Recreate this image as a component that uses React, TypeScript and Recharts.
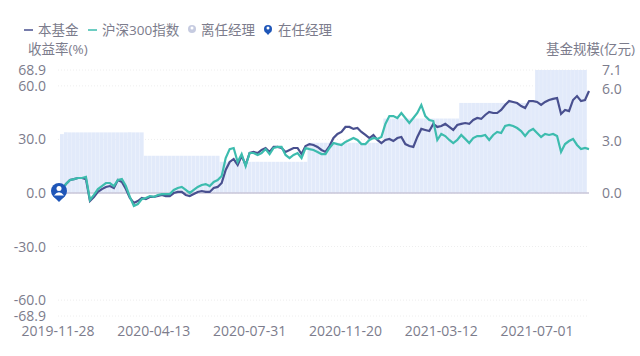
import { ComposedChart, Bar, Line, XAxis, YAxis, CartesianGrid, ReferenceLine, ReferenceDot } from 'recharts'

const tickIndexes = [0, 24, 48, 72, 96, 120]
const tickLabels = ['2019-11-28', '2020-04-13', '2020-07-31', '2020-11-20', '2021-03-12', '2021-07-01']
const leftTicks = [-68.9, -60, -30, 0, 30, 60, 68.9]
const rightTicks = [0, 3, 6, 7.1]

const fundReturn = [
  0, 2.2, 5.0, 7.3, 7.8, 8.4, 8.4, 7.8, -4.5, -2.2, 0.6, 2.2, 3.4, 3.9, 2.8, 7.3, 6.2, 2.2, -2.8, -5.6,
  -4.5, -2.8, -3.4, -2.2, -2.2, -1.7, -1.1, -1.7, -1.7, 0, 0.6, 0.6, -1.1, -1.7, -0.6, 0.6, 1.1, 0.6, 0.6, 2.8,
  3.4, 5.6, 12.9, 17.4, 19.0, 15.7, 20.7, 15.7, 22.4, 23.0, 22.4, 24.1, 25.2, 23.0, 25.8, 25.8, 25.2, 23.0, 24.1, 25.2,
  25.2, 21.8, 26.3, 27.4, 26.9, 25.8, 24.1, 23.0, 26.3, 30.8, 33.1, 34.2, 37.0, 37.0, 35.9, 36.4, 34.2, 32.5, 30.8, 32.5,
  29.7, 28.0, 29.7, 30.3, 29.1, 30.8, 31.4, 27.4, 26.3, 25.8, 31.4, 35.9, 35.3, 34.7, 38.7, 37.0, 37.5, 38.7, 37.0, 35.3,
  38.1, 38.7, 39.2, 38.7, 40.9, 42.0, 41.5, 43.7, 45.4, 44.8, 44.8, 46.5, 49.3, 51.5, 51.0, 50.4, 48.7, 47.6, 51.5, 51.5,
  51.0, 49.3, 51.0, 52.1, 52.7, 53.2, 44.3, 46.5, 45.9, 52.1, 54.3, 51.5, 52.1, 57.1,
]

const indexReturn = [
  0, 2.2, 5.0, 7.3, 7.8, 8.4, 8.4, 9.0, -3.9, -1.1, 2.2, 3.9, 5.6, 5.6, 3.9, 7.3, 7.8, 3.9, -2.2, -7.3,
  -6.2, -3.4, -2.8, -1.7, -2.2, -1.1, -0.6, -0.6, -0.6, 1.7, 2.8, 3.4, 1.7, 0, 1.7, 3.4, 4.5, 5.0, 3.9, 6.2,
  7.3, 9.5, 19.6, 24.6, 25.2, 17.4, 21.8, 15.1, 22.4, 22.4, 21.3, 22.4, 24.6, 21.8, 25.2, 25.8, 25.8, 21.3, 19.6, 21.3,
  22.4, 19.6, 25.2, 24.6, 24.1, 23.0, 21.8, 21.8, 25.2, 28.0, 27.4, 26.9, 28.6, 29.7, 30.8, 29.7, 27.4, 27.4, 29.7, 30.8,
  30.3, 31.4, 38.7, 43.1, 43.1, 42.0, 44.8, 42.0, 39.2, 42.0, 44.8, 49.3, 43.1, 40.9, 40.3, 29.7, 33.1, 31.9, 29.7, 28.0,
  29.7, 32.5, 30.3, 28.0, 30.8, 31.9, 31.9, 32.5, 29.7, 32.5, 34.2, 33.6, 37.5, 38.1, 37.5, 36.4, 34.7, 31.9, 34.7, 35.9,
  33.6, 31.4, 33.1, 32.5, 33.1, 31.9, 23.0, 27.4, 29.1, 30.3, 26.9, 24.6, 25.2, 24.6,
]

const fundScale = [
  null,
  3.4, 3.5, 3.5, 3.5, 3.5, 3.5, 3.5, 3.5, 3.5, 3.5, 3.5, 3.5, 3.5, 3.5, 3.5, 3.5, 3.5, 3.5, 3.5, 3.5, 3.5,
  2.15, 2.15, 2.15, 2.15, 2.15, 2.15, 2.15, 2.15, 2.15, 2.15, 2.15, 2.15, 2.15, 2.15, 2.15, 2.15, 2.15, 2.15, 2.15,
  1.8, 1.8, 1.8, 1.8, 1.8, 1.8, 1.8, 1.8, 1.8, 1.8, 1.8, 1.8, 1.8, 1.8, 1.8, 1.8, 1.8, 1.8, 1.8, 1.8, 1.8, 1.8,
  2.9, 2.9, 2.9, 2.9, 2.9, 2.9, 2.9, 2.9, 2.9, 2.9, 2.9, 2.9, 2.9, 2.9, 2.9, 2.9, 2.9, 2.9, 2.9,
  4.3, 4.3, 4.3, 4.3, 4.3, 4.3, 4.3, 4.3, 4.3, 4.3, 4.3, 4.3, 4.3, 4.3, 4.3, 4.3, 4.3, 4.3, 4.3,
  5.2, 5.2, 5.2, 5.2, 5.2, 5.2, 5.2, 5.2, 5.2, 5.2, 5.2, 5.2, 5.2, 5.2, 5.2, 5.2, 5.2, 5.2, 5.2,
  7.1, 7.1, 7.1, 7.1, 7.1, 7.1, 7.1, 7.1, 7.1, 7.1, 7.1, 7.1, 7.1, null,
]

const chartData = fundReturn.map((fund, i) => ({ i, fund, index: indexReturn[i], scale: fundScale[i] }))

const FONT = '"Open Sans", "Noto Sans CJK SC", sans-serif'
const TEXT = '#7c7c8c'

function PinMarker({ cx, cy }: { cx?: number; cy?: number }) {
  const x = (cx ?? 0) + 1
  const y = (cy ?? 0) - 2
  return (
    <g>
      <path d={`M${x - 5} ${y + 6} L${x} ${y + 11} L${x + 5} ${y + 6} Z`} fill="#1f56b8" />
      <circle cx={x} cy={y} r={8} fill="#1f56b8" />
      <circle cx={x} cy={y - 2.5} r={2.5} fill="#fff" />
      <path d={`M${x - 5} ${y + 4.5} Q${x} ${y - 2} ${x + 5} ${y + 4.5} Z`} fill="#fff" />
    </g>
  )
}

function Caption({ left, top, children }: { left: number; top: number; children: string }) {
  return (
    <span style={{ position: 'absolute', left, top, fontSize: 13.5, lineHeight: '20px', color: TEXT, whiteSpace: 'nowrap' }}>
      {children}
    </span>
  )
}

export default function App() {
  return (
    <div style={{ position: 'absolute', left: 0, top: 0, width: 640, height: 356, fontFamily: FONT }}>
      <ComposedChart
        width={640}
        height={356}
        data={chartData}
        margin={{ top: 70, right: 0, bottom: 0, left: 0 }}
      >
        <CartesianGrid yAxisId="left" xAxisId={0} vertical={false} stroke="#eeeeee" strokeDasharray="1 2" />
        <XAxis
          dataKey="i"
          type="number"
          domain={[0, 133]}
          ticks={tickIndexes}
          interval={0}
          height={40}
          axisLine={false}
          tickLine={false}
          tickMargin={4}
          tick={{ fontSize: 14, fill: TEXT, fontFamily: FONT }}
          tickFormatter={(v: number) => tickLabels[tickIndexes.indexOf(v)]}
        />
        <YAxis
          yAxisId="left"
          width={58}
          domain={[-68.9, 68.9]}
          ticks={leftTicks}
          interval={0}
          axisLine={false}
          tickLine={false}
          tickMargin={6}
          tick={{ fontSize: 14, fill: TEXT, fontFamily: FONT }}
          tickFormatter={(v: number) => v.toFixed(1)}
        />
        <YAxis
          yAxisId="right"
          orientation="right"
          width={51}
          domain={[-7.1, 7.1]}
          ticks={rightTicks}
          interval={0}
          axisLine={false}
          tickLine={false}
          tickMargin={7}
          tick={{ fontSize: 14, fill: TEXT, fontFamily: FONT }}
          tickFormatter={(v: number) => v.toFixed(1)}
        />
        <Bar yAxisId="right" dataKey="scale" fill="#e2eafa" barSize={3.8} isAnimationActive={false} />
        <ReferenceLine yAxisId="left" y={0} stroke="#c9c6d8" strokeWidth={1.5} />
        <Line yAxisId="left" dataKey="fund" stroke="#49508f" strokeWidth={2.2} dot={false} isAnimationActive={false} />
        <Line yAxisId="left" dataKey="index" stroke="#3dbcae" strokeWidth={2.2} dot={false} isAnimationActive={false} />
        <ReferenceDot yAxisId="left" x={0} y={0} ifOverflow="visible" shape={(p: any) => <PinMarker cx={p.cx} cy={p.cy} />} />
      </ComposedChart>

      <svg width={340} height={20} style={{ position: 'absolute', left: 0, top: 20 }}>
        <line x1={24} x2={33} y1={10} y2={10} stroke="#49508f" strokeWidth={1.5} />
        <line x1={88} x2={97} y1={10} y2={10} stroke="#3dbcae" strokeWidth={1.5} />
        <circle cx={192} cy={9} r={4} fill="#c6cbe0" />
        <circle cx={192} cy={8} r={1.5} fill="#fff" />
        <circle cx={268} cy={9} r={4} fill="#1f56b8" />
        <path d="M264.5 11 L268 15 L271.5 11 Z" fill="#1f56b8" />
        <circle cx={268} cy={8} r={1.5} fill="#fff" />
      </svg>
      <Caption left={38} top={20}>本基金</Caption>
      <Caption left={102} top={20}>沪深300指数</Caption>
      <Caption left={201} top={20}>离任经理</Caption>
      <Caption left={278} top={20}>在任经理</Caption>
      <Caption left={28} top={39}>收益率(%)</Caption>
      <Caption left={546} top={39}>基金规模(亿元)</Caption>
    </div>
  )
}
